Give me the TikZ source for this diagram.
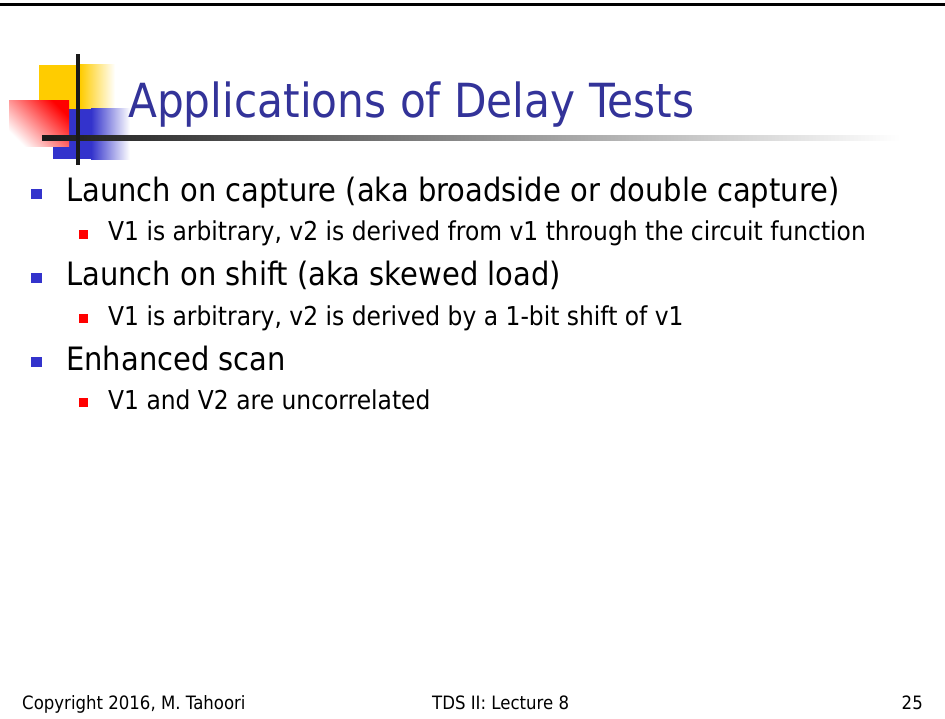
\documentclass[tikz,border=0pt]{standalone}
\usepackage{fontspec}
\setmainfont{DejaVu Sans}[FakeStretch=0.9]
\usetikzlibrary{positioning,calc}
\definecolor{titleblue}{HTML}{333399}
\definecolor{logoblue}{HTML}{3333CC}
\definecolor{logoyellow}{HTML}{FFCC00}
\tikzstyle{titletext}=[text=titleblue, font=\fontsize{47}{47}\selectfont, inner sep=0pt, anchor=base west]
\tikzstyle{itemtext}=[font=\fontsize{32.2}{32}\selectfont, inner sep=0pt, anchor=base west]
\tikzstyle{subtext}=[font=\fontsize{26}{26}\selectfont, inner sep=0pt, anchor=base west]
\tikzstyle{foottext}=[font=\fontsize{18.4}{18.4}\selectfont, inner sep=0pt, anchor=base west]
\tikzstyle{mainbullet}=[rectangle, fill=logoblue, minimum size=10.5pt, inner sep=0pt]
\tikzstyle{subbullet}=[rectangle, fill=red, minimum size=9pt, inner sep=0pt]
\tikzstyle{bar}=[fill=black!90, draw=none]
\newcommand\slideitem[4]{
            \node (#1) [itemtext] at (66,#2) {#3};
            \node (#1b) [mainbullet] at (36.5,#2-8) {};
            \node (#1s) [subtext] at (108,#2+39) {#4};
            \node (#1sb) [subbullet] at (83,#2+32.5) {};
        }

\begin{document}
\begin{tikzpicture}[x=1pt, y=-1pt]

    \useasboundingbox (0,0) rectangle (945,719);
    \fill[white] (0,0) rectangle (945,719);
    \fill[black] (0,3.5) rectangle (945,6.5);

% LOGO
    \fill[logoyellow] (39,65) rectangle (80,110);
    \shade[left color=logoyellow, right color=white] (80,65) rectangle (115,110);
    \fill[logoblue] (53,109) rectangle (91,159);
    \shade[left color=logoblue, right color=white] (91,109) rectangle (130,160);
    \shade[top color=red, bottom color=white, shading angle=-45] (9,101) rectangle (69,147);
    \shade[left color=black!90, right color=white] (42,136) rectangle (900,141);
    \fill[bar] (76,54) rectangle (80,165);
%%%% end LOGO

    \node (title) [titletext] at (128,118) {Applications of Delay Tests};

    \slideitem{loc}{202}{Launch on capture (aka broadside or double capture)}{V1 is arbitrary, v2 is derived from v1 through the circuit function};
    \slideitem{los}{286}{Launch on shift (aka skewed load)}{V1 is arbitrary, v2 is derived by a 1-bit shift of v1};
    \slideitem{esc}{370}{Enhanced scan}{V1 and V2 are uncorrelated};

% footer
    \node (copy) [foottext] at (22,709) {Copyright 2016, M. Tahoori};
    \node (lect) [foottext] at (432,709) {TDS II: Lecture 8};
    \node (page) [foottext, anchor=base east] at (923,709) {25};

\end{tikzpicture}
\end{document}
